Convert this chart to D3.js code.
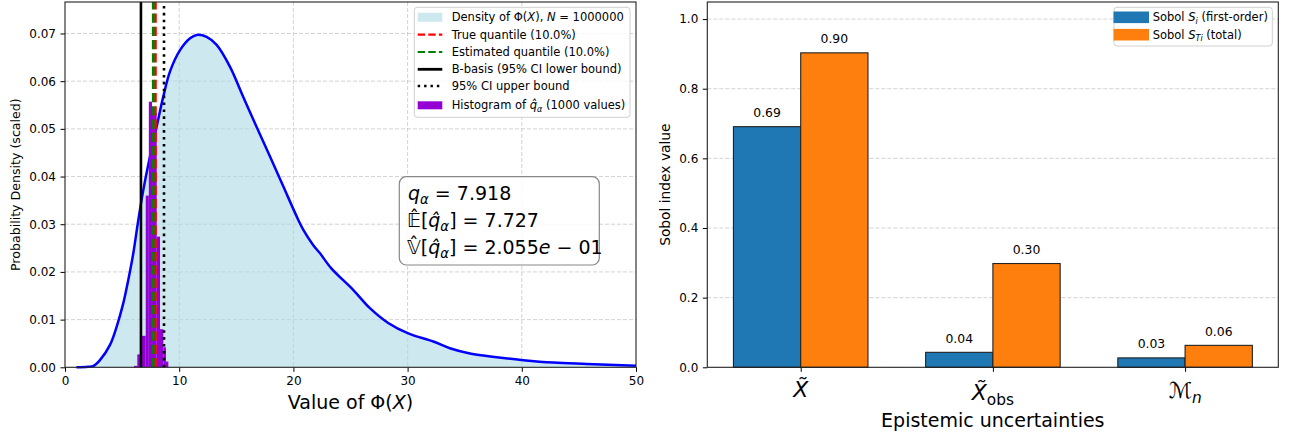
<!DOCTYPE html>
<html><head><meta charset="utf-8">
<script src="https://cdn.jsdelivr.net/npm/d3@7"></script>
<style>body{margin:0;background:#fff}svg{font-family:"DejaVu Sans",sans-serif}</style>
</head><body><svg id="c" width="1297" height="436"></svg>
<script>
// ---------- data (left panel) ----------
const densX=[1.0,2.0,2.5,3.06,3.94,4.52,5.1,5.54,5.98,6.42,6.86,7.44,8.02,8.6,9.19,10.07,10.95,11.53,12.4,13.28,14.45,15.61,16.78,17.95,19.12,20.43,20.87,21.74,22.33,23.3,25.25,26.7,28.3,30.06,32.25,33.7,35.46,37.8,40.13,42.76,45.68,50];
const densY=[0.0,0.0001,0.0003,0.0015,0.0047,0.0085,0.0134,0.0183,0.0239,0.0309,0.0372,0.0442,0.0504,0.0567,0.0620,0.0665,0.0690,0.0697,0.0693,0.0676,0.0630,0.0567,0.0504,0.0442,0.0379,0.0309,0.0288,0.0256,0.0239,0.0208,0.0162,0.0124,0.0093,0.0071,0.0054,0.0040,0.0029,0.0021,0.0015,0.0010,0.0007,0.0003];
const histEdges=[6.04,6.33,6.70,7.07,7.34,7.62,8.03,8.32,8.61,8.84,9.05];
const histHeights=[0.0003,0.0027,0.0066,0.0360,0.0557,0.0533,0.0274,0.0080,0.0042,0.0012];
const qTrue=7.918, qEst=7.727, bBasis=6.65, ciUpper=8.67;
const xTicksL=[0,10,20,30,40,50];
const yTicksL=[0,0.01,0.02,0.03,0.04,0.05,0.06,0.07];
// ---------- data (right panel) ----------
const categories=["Xtilde","Xobs","Mn"];
const sobolFirst=[0.691,0.043,0.027];
const sobolTotal=[0.903,0.298,0.063];
const yTicksR=[0,0.2,0.4,0.6,0.8,1.0];

const svg=d3.select("#c");
function rich(g,x,y,parts,size,anchor){
  const t=g.append("text").attr("x",x).attr("y",y).attr("font-size",size).attr("text-anchor",anchor||"start").attr("fill","#000");
  let inSub=false;
  parts.forEach(p=>{
    const ts=t.append("tspan").text(p.t);
    if(p.i) ts.attr("font-style","italic");
    if(p.s){ ts.attr("font-size",size*0.7); if(!inSub){ts.attr("dy",size*0.22);inSub=true;} }
    else if(inSub){ ts.attr("dy",-size*0.22); inSub=false; }
  });
  return t;
}
function styleAxis(g,fs){
  g.selectAll("path.domain").remove();
  g.selectAll(".tick line").attr("stroke","#000").attr("stroke-width",1);
  g.selectAll(".tick text").attr("font-size",fs).attr("fill","#000").attr("font-family","DejaVu Sans");
}

// ================= LEFT PANEL =================
const L={x0:65,x1:636,y0:2,y1:367.3};
const xL=d3.scaleLinear().domain([0,50]).range([L.x0,L.x1]);
const yL=d3.scaleLinear().domain([0,0.0766]).range([L.y1,L.y0]);
const gl=svg.append("g");
gl.selectAll(".gx").data(xTicksL.filter(d=>d>0&&d<50)).join("line")
  .attr("x1",d=>xL(d)).attr("x2",d=>xL(d)).attr("y1",L.y0).attr("y2",L.y1)
  .attr("stroke","#c8c8c8").attr("stroke-width",0.8).attr("stroke-dasharray","4,2");
gl.selectAll(".gy").data(yTicksL.filter(d=>d>0)).join("line")
  .attr("x1",L.x0).attr("x2",L.x1).attr("y1",d=>yL(d)).attr("y2",d=>yL(d))
  .attr("stroke","#c8c8c8").attr("stroke-width",0.8).attr("stroke-dasharray","4,2");
const dens=densX.map((x,i)=>[x,densY[i]]);
const crv=d3.curveCatmullRom.alpha(0.5);
gl.append("path").datum(dens)
  .attr("d",d3.area().x(d=>xL(d[0])).y0(yL(0)).y1(d=>yL(d[1])).curve(crv))
  .attr("fill","#add8e6").attr("fill-opacity",0.6);
gl.append("path").datum(dens)
  .attr("d",d3.line().x(d=>xL(d[0])).y(d=>yL(d[1])).curve(crv))
  .attr("fill","none").attr("stroke","#0000ff").attr("stroke-width",2.5);
gl.selectAll(".hb").data(histHeights).join("rect")
  .attr("x",(d,i)=>xL(histEdges[i])).attr("width",(d,i)=>xL(histEdges[i+1])-xL(histEdges[i]))
  .attr("y",d=>yL(d)).attr("height",d=>yL(0)-yL(d)).attr("fill","#9400d3");
const vlines=[
  {v:qTrue,c:"#ff0000",w:2.7,da:"9.25,4"},
  {v:qEst,c:"#008000",w:2.7,da:"9.25,4"},
  {v:bBasis,c:"#000",w:2.6,da:null},
  {v:ciUpper,c:"#000",w:2.6,da:"2.6,4.3"}];
vlines.forEach(o=>{
  const ln=gl.append("line").attr("x1",xL(o.v)).attr("x2",xL(o.v)).attr("y1",L.y1).attr("y2",L.y0)
    .attr("stroke",o.c).attr("stroke-width",o.w);
  if(o.da) ln.attr("stroke-dasharray",o.da);
});
const axXL=gl.append("g").attr("transform",`translate(0,${L.y1})`)
  .call(d3.axisBottom(xL).tickValues(xTicksL).tickFormat(d3.format("d")).tickSize(4.5).tickPadding(4.5));
styleAxis(axXL,12);
const axYL=gl.append("g").attr("transform",`translate(${L.x0},0)`)
  .call(d3.axisLeft(yL).tickValues(yTicksL).tickFormat(d3.format(".2f")).tickSize(4.5).tickPadding(4.5));
styleAxis(axYL,12);
gl.append("rect").attr("x",L.x0).attr("y",L.y0).attr("width",L.x1-L.x0).attr("height",L.y1-L.y0)
  .attr("fill","none").attr("stroke","#222").attr("stroke-width",1.1);
rich(gl,(L.x0+L.x1)/2,409,[{t:"Value of Φ("},{t:"X",i:1},{t:")"}],19,"middle");
gl.append("text").attr("transform",`translate(20,${(L.y0+L.y1)/2}) rotate(-90)`)
  .attr("text-anchor","middle").attr("font-size",12.6).text("Probability Density (scaled)");
const lg=gl.append("g");
lg.append("rect").attr("x",414.3).attr("y",7.3).attr("width",215.7).attr("height",110).attr("rx",3)
  .attr("fill","#fff").attr("fill-opacity",0.8).attr("stroke","#d0d0d0").attr("stroke-width",1);
const rowsL=[17.3,34.7,52,69.3,86,105.3];
const hx0=417.7,hx1=442.3,tx=451.7,lfs=11.5;
lg.append("rect").attr("x",hx0).attr("y",rowsL[0]-4.5).attr("width",hx1-hx0).attr("height",9).attr("fill","#add8e6").attr("fill-opacity",0.6);
[[1,"#ff0000",2.2,"7.4,3.2"],[2,"#008000",2.2,"7.4,3.2"],[3,"#000",2.8,null],[4,"#000",2.4,"2.4,4"]].forEach(([r,c,w,da])=>{
  const l=lg.append("line").attr("x1",hx0).attr("x2",hx1).attr("y1",rowsL[r]).attr("y2",rowsL[r]).attr("stroke",c).attr("stroke-width",w);
  if(da) l.attr("stroke-dasharray",da);
});
lg.append("rect").attr("x",hx0).attr("y",rowsL[5]-4).attr("width",hx1-hx0).attr("height",8).attr("fill","#9400d3");
rich(lg,tx,rowsL[0]+4,[{t:"Density of Φ("},{t:"X",i:1},{t:"), "},{t:"N",i:1},{t:" = 1000000"}],lfs);
rich(lg,tx,rowsL[1]+4,[{t:"True quantile (10.0%)"}],lfs);
rich(lg,tx,rowsL[2]+4,[{t:"Estimated quantile (10.0%)"}],lfs);
rich(lg,tx,rowsL[3]+4,[{t:"B-basis (95% CI lower bound)"}],lfs);
rich(lg,tx,rowsL[4]+4,[{t:"95% CI upper bound"}],lfs);
rich(lg,tx,rowsL[5]+4,[{t:"Histogram of "},{t:"q\u0302",i:1},{t:"α",i:1,s:1},{t:" (1000 values)"}],lfs);
const tb=gl.append("g");
tb.append("rect").attr("x",399.3).attr("y",176.7).attr("width",200).attr("height",88.3).attr("rx",7)
  .attr("fill","#fff").attr("fill-opacity",0.85).attr("stroke","#888").attr("stroke-width",1.2);
const tfs=19;
rich(tb,408,200,[{t:"q",i:1},{t:"α",i:1,s:1},{t:" = 7.918"}],tfs);
rich(tb,407,227,[{t:"𝔼\u0302"},{t:"["},{t:"q\u0302",i:1},{t:"α",i:1,s:1},{t:"] = 7.727"}],tfs);
rich(tb,407,254,[{t:"𝕍\u0302"},{t:"["},{t:"q\u0302",i:1},{t:"α",i:1,s:1},{t:"] = 2.055"},{t:"e",i:1},{t:" − 01"}],tfs);

// ================= RIGHT PANEL =================
const R={x0:707.3,x1:1278.3,y0:2,y1:367.3};
const xR=d3.scaleLinear().domain([-0.486,2.485]).range([R.x0,R.x1]);
const yR=d3.scaleLinear().domain([0,1.049]).range([R.y1,R.y0]);
const gr=svg.append("g");
gr.selectAll(".gy").data(yTicksR.filter(d=>d>0)).join("line")
  .attr("x1",R.x0).attr("x2",R.x1).attr("y1",d=>yR(d)).attr("y2",d=>yR(d))
  .attr("stroke","#c8c8c8").attr("stroke-width",0.8).attr("stroke-dasharray","4,2");
const bw=0.35;
const series=[{vals:sobolFirst,off:-bw/2,c:"#1f77b4"},{vals:sobolTotal,off:bw/2,c:"#ff7f0e"}];
series.forEach(s=>{
  gr.selectAll(null).data(s.vals).join("rect")
    .attr("x",(d,i)=>xR(i+s.off-bw/2)).attr("width",xR(bw)-xR(0))
    .attr("y",d=>yR(d)).attr("height",d=>yR(0)-yR(d))
    .attr("fill",s.c).attr("stroke","#222").attr("stroke-width",1.1);
  gr.selectAll(null).data(s.vals).join("text")
    .attr("x",(d,i)=>xR(i+s.off)).attr("y",d=>yR(d)-9.4).attr("text-anchor","middle")
    .attr("font-size",12.4).text(d=>d.toFixed(2));
});
const axXR=gr.append("g").attr("transform",`translate(0,${R.y1})`)
  .call(d3.axisBottom(xR).tickValues([0,1,2]).tickFormat("").tickSize(4.5));
styleAxis(axXR,12);
const axYR=gr.append("g").attr("transform",`translate(${R.x0},0)`)
  .call(d3.axisLeft(yR).tickValues(yTicksR).tickFormat(d3.format(".1f")).tickSize(4.5).tickPadding(4.5));
styleAxis(axYR,12);
gr.append("rect").attr("x",R.x0).attr("y",R.y0).attr("width",R.x1-R.x0).attr("height",R.y1-R.y0)
  .attr("fill","none").attr("stroke","#222").attr("stroke-width",1.1);
const catParts={
  Xtilde:{parts:[{t:"X\u0303",i:1}],y:397},
  Xobs:{parts:[{t:"X\u0303",i:1},{t:"obs",s:1}],y:400},
  Mn:{parts:[{t:"ℳ"},{t:"n",i:1,s:1}],y:398}};
categories.forEach((c,i)=>rich(gr,xR(i),catParts[c].y,catParts[c].parts,22,"middle"));
rich(gr,(R.x0+R.x1)/2,426.7,[{t:"Epistemic uncertainties"}],19,"middle");
gr.append("text").attr("transform",`translate(670,${(R.y0+R.y1)/2}) rotate(-90)`)
  .attr("text-anchor","middle").attr("font-size",13.8).text("Sobol index value");
const rg=gr.append("g");
rg.append("rect").attr("x",1114).attr("y",7.3).attr("width",158.3).attr("height",38.7).attr("rx",3)
  .attr("fill","#fff").attr("fill-opacity",0.8).attr("stroke","#d0d0d0");
const rowsR=[17.3,34.7];
rg.append("rect").attr("x",1113.5).attr("y",rowsR[0]-5.8).attr("width",35.5).attr("height",11.6).attr("fill","#1f77b4");
rg.append("rect").attr("x",1113.5).attr("y",rowsR[1]-5.8).attr("width",35.5).attr("height",11.6).attr("fill","#ff7f0e");
rich(rg,1152.7,rowsR[0]+4,[{t:"Sobol "},{t:"S",i:1},{t:"i",i:1,s:1},{t:" (first-order)"}],11.5);
rich(rg,1152.7,rowsR[1]+4,[{t:"Sobol "},{t:"S",i:1},{t:"Ti",i:1,s:1},{t:" (total)"}],11.5);
</script></body></html>
